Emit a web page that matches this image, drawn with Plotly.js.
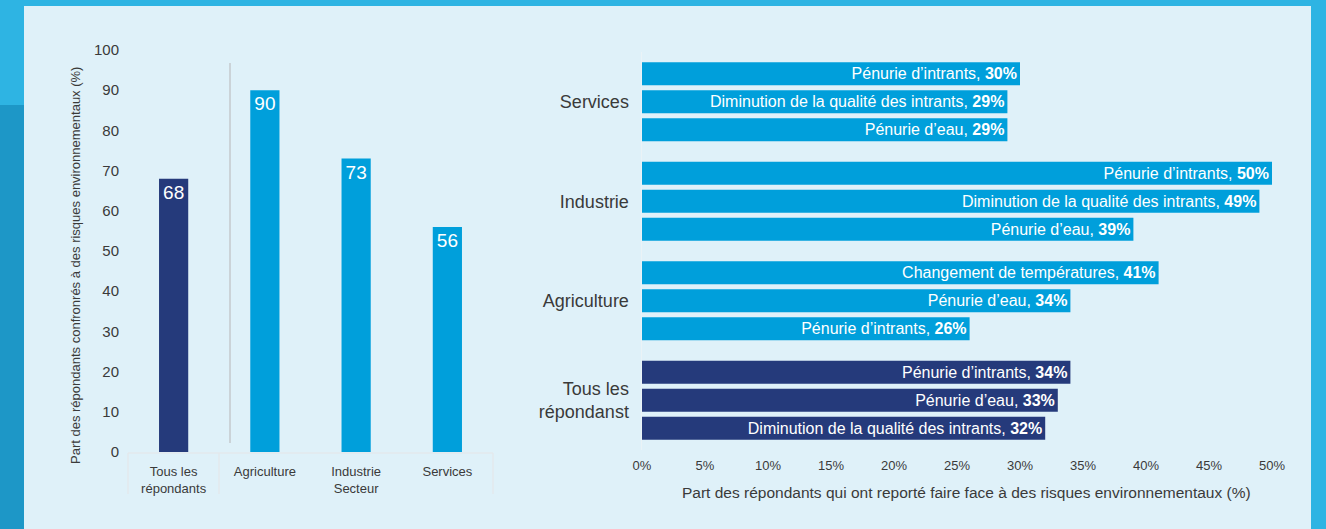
<!DOCTYPE html>
<html>
<head>
<meta charset="utf-8">
<script src="https://cdn.plot.ly/plotly-3.0.1.min.js"></script>
<style>
  html, body { margin: 0; padding: 0; }
  #chart { width: 1326px; height: 529px; }
</style>
</head>
<body>
<div id="chart"></div>
<script>
// Left chart: share of respondents facing environmental risks
var groupes = ["Tous les<br>répondants", "Agriculture", "Industrie<br>Secteur", "Services"];
var partGroupes = [68, 90, 73, 56];

// Right chart: top risks by sector (bottom / middle / top bar of each group)
var secteurs = ["Tous les<br>répondanst", "Agriculture", "Industrie", "Services"];
var risquesBas = ["Diminution de la qualité des intrants", "Pénurie d’intrants", "Pénurie d’eau", "Pénurie d’eau"];
var valeursBas = [32, 26, 39, 29];
var risquesMilieu = ["Pénurie d’eau", "Pénurie d’eau", "Diminution de la qualité des intrants", "Diminution de la qualité des intrants"];
var valeursMilieu = [33, 34, 49, 29];
var risquesHaut = ["Pénurie d’intrants", "Changement de températures", "Pénurie d’intrants", "Pénurie d’intrants"];
var valeursHaut = [34, 41, 50, 30];

var xTicks = [0, 5, 10, 15, 20, 25, 30, 35, 40, 45, 50];

var BLEU = "#009fdb";
var MARINE = "#253a7b";
var W = 1326, H = 529;
function px(x) { return x / W; }
function py(y) { return 1 - y / H; }

// one colour per sector: the "Tous" group is navy
var couleurs = secteurs.map(function(s, i) { return i === 0 ? MARINE : BLEU; });

function etiquettes(noms, vals) {
  return noms.map(function(n, i) { return n + ", <b>" + vals[i] + "%</b>"; });
}

function traceRisque(noms, vals) {
  return {
    type: "bar",
    orientation: "h",
    x: vals,
    y: secteurs,
    xaxis: "x2",
    yaxis: "y2",
    marker: { color: couleurs },
    text: etiquettes(noms, vals),
    textposition: "inside",
    insidetextanchor: "end",
    constraintext: "none",
    textfont: { color: "white", size: 16, family: "Arial, Liberation Sans, sans-serif" },
    hoverinfo: "x+y",
    showlegend: false
  };
}

var traceGroupes = {
  type: "bar",
  x: groupes,
  y: partGroupes,
  width: 0.32,
  marker: { color: groupes.map(function(g, i) { return i === 0 ? MARINE : BLEU; }) },
  text: partGroupes.map(String),
  textposition: "inside",
  insidetextanchor: "end",
  constraintext: "none",
  textfont: { color: "white", size: 19, family: "Arial, Liberation Sans, sans-serif" },
  showlegend: false
};

var data = [
  traceGroupes,
  traceRisque(risquesBas, valeursBas),
  traceRisque(risquesMilieu, valeursMilieu),
  traceRisque(risquesHaut, valeursHaut)
];

var ligne = "#e3e9ec";

var layout = {
  width: W,
  height: H,
  margin: { l: 0, r: 0, t: 0, b: 0 },
  paper_bgcolor: "#2eb4e3",
  plot_bgcolor: "rgba(0,0,0,0)",
  font: { family: "Arial, Liberation Sans, sans-serif", color: "#3a3a3a" },
  barmode: "group",
  bargap: 0.156,
  bargroupgap: 0.18,
  xaxis: {
    domain: [px(128), px(493)],
    anchor: "y",
    tickfont: { size: 13, color: "#3a3a3a" },
    ticks: "",
    ticklabelstandoff: 10,
    showline: false,
    showgrid: false,
    fixedrange: true,
    automargin: false
  },
  yaxis: {
    domain: [py(452), py(50)],
    anchor: "x",
    range: [0, 100],
    dtick: 10,
    tickfont: { size: 15, color: "#3a3a3a" },
    ticks: "",
    ticklabelstandoff: 8,
    showline: false,
    showgrid: false,
    zeroline: false,
    fixedrange: true,
    automargin: false
  },
  xaxis2: {
    domain: [px(642), px(1272)],
    anchor: "y2",
    range: [0, 50],
    tickvals: xTicks,
    ticktext: xTicks.map(function(v) { return v + "%"; }),
    tickfont: { size: 13, color: "#3a3a3a" },
    ticks: "",
    ticklabelstandoff: 6,
    showgrid: false,
    zeroline: false,
    showline: false,
    fixedrange: true,
    automargin: false
  },
  yaxis2: {
    domain: [py(450), py(52)],
    anchor: "x2",
    type: "category",
    categoryorder: "array",
    categoryarray: secteurs,
    tickfont: { size: 18, color: "#3a3a3a" },
    ticks: "",
    ticklabelstandoff: 8,
    showgrid: false,
    showline: true,
    linecolor: "rgba(235,243,246,0.9)",
    linewidth: 1.5,
    fixedrange: true,
    automargin: false
  },
  shapes: [
    // inner light panel
    { type: "rect", xref: "paper", yref: "paper", x0: px(24), x1: px(1311), y0: py(600), y1: py(6),
      fillcolor: "#dff1f9", line: { width: 0 }, layer: "below" },
    // darker lower part of the left frame
    { type: "rect", xref: "paper", yref: "paper", x0: 0, x1: px(24), y0: 0, y1: py(105),
      fillcolor: "#1d97c7", line: { width: 0 }, layer: "below" },
    // separator between "Tous" and the sectors
    { type: "line", xref: "paper", yref: "paper", x0: px(230), x1: px(230), y0: py(443), y1: py(63),
      line: { color: "#c4c9cc", width: 1.5 } },
    // category table under the left chart
    { type: "line", xref: "paper", yref: "paper", x0: px(128), x1: px(493), y0: py(453), y1: py(453),
      line: { color: ligne, width: 1.5 } },
    { type: "line", xref: "paper", yref: "paper", x0: px(128), x1: px(128), y0: py(453), y1: py(494),
      line: { color: ligne, width: 1.5 } },
    { type: "line", xref: "paper", yref: "paper", x0: px(219), x1: px(219), y0: py(453), y1: py(494),
      line: { color: ligne, width: 1.5 } },
    { type: "line", xref: "paper", yref: "paper", x0: px(493), x1: px(493), y0: py(453), y1: py(494),
      line: { color: ligne, width: 1.5 } }
  ],
  annotations: [
    { text: "Part des répondants confronrés à des risques environnementaux (%)",
      xref: "paper", yref: "paper", x: px(75), y: py(266), textangle: -90,
      showarrow: false, xanchor: "center", yanchor: "middle",
      font: { size: 13, color: "#3a3a3a" } },
    { text: "Part des répondants qui ont reporté faire face à des risques environnementaux (%)",
      xref: "paper", yref: "paper", x: px(966), y: py(492),
      showarrow: false, xanchor: "center", yanchor: "middle",
      font: { size: 15.5, color: "#3a3a3a" } }
  ]
};

Plotly.newPlot("chart", data, layout, { displayModeBar: false, staticPlot: true });
</script>
</body>
</html>
